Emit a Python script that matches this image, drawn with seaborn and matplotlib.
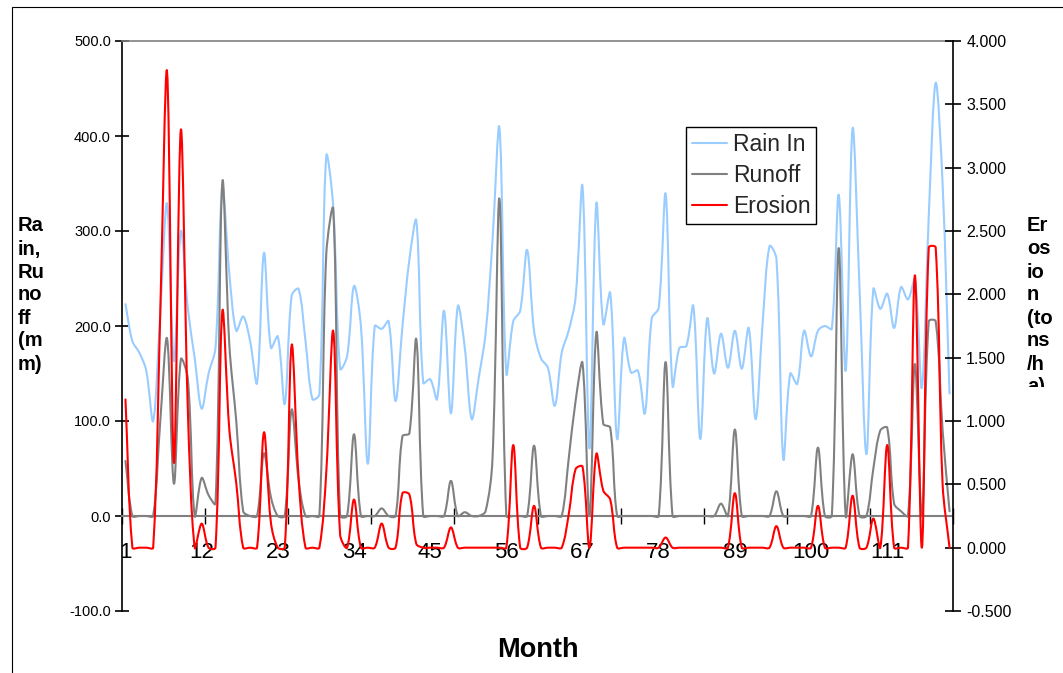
import numpy as np
import matplotlib
matplotlib.use("Agg")
import matplotlib.pyplot as plt
import seaborn as sns
from matplotlib.path import Path
from matplotlib.patches import PathPatch, Rectangle
from matplotlib.lines import Line2D
from matplotlib.ticker import FixedLocator, FormatStrFormatter
from matplotlib.transforms import Bbox, TransformedBbox

# ---------------- data ----------------
months = list(range(1, 121))

rain_in = [223, 184, 172, 153, 100, 210, 329, 163, 300, 219,
           166, 113, 150, 177, 345, 255, 195, 210, 184, 140,
           277, 177, 189, 118, 232, 239, 184, 123, 128, 379,
           326, 155, 168, 242, 200, 55, 200, 197, 205, 121,
           200, 270, 311, 140, 144, 123, 216, 108, 221, 177,
           102, 145, 192, 290, 409, 150, 205, 216, 280, 195,
           166, 156, 116, 172, 195, 230, 347, 71, 329, 202,
           235, 81, 187, 151, 153, 108, 208, 219, 339, 137,
           177, 179, 221, 81, 208, 150, 192, 156, 195, 155,
           198, 102, 202, 284, 271, 60, 150, 139, 195, 168,
           195, 200, 197, 338, 153, 408, 240, 65, 239, 218,
           234, 198, 241, 228, 249, 135, 316, 456, 349, 129]

runoff = [58, 0, 0, 0, 0, 97, 187, 34, 165, 145,
          0, 40, 22, 13, 352, 180, 100, 5, 0, 0,
          66, 20, 0, 0, 112, 38, 0, 0, 0, 276,
          323, 0, 0, 86, 0, 0, 0, 8, 0, 0,
          84, 87, 186, 0, 0, 0, 0, 37, 0, 4,
          0, 0, 5, 60, 334, 0, 0, 0, 0, 74,
          0, 0, 0, 0, 60, 121, 161, 0, 193, 97,
          93, 0, 0, 0, 0, 0, 0, 0, 162, 0,
          0, 0, 0, 0, 0, 0, 13, 0, 91, 0,
          0, 0, 0, 0, 26, 0, 0, 0, 0, 0,
          72, 0, 0, 282, 0, 65, 0, 0, 50, 90,
          93, 13, 5, 0, 160, 0, 205, 205, 90, 5]

erosion = [1.17, 0, 0, 0, 0, 1.80, 3.76, 0.67, 3.30, 1.10,
           0, 0.19, 0, 0, 1.87, 0.93, 0.51, 0, 0, 0,
           0.91, 0.20, 0, 0, 1.60, 0.55, 0, 0, 0, 0.60,
           1.71, 0.10, 0, 0.38, 0, 0, 0, 0.19, 0, 0,
           0.43, 0.42, 0.03, 0, 0, 0, 0, 0.16, 0, 0,
           0, 0, 0, 0, 0, 0, 0.81, 0, 0, 0.33,
           0, 0, 0, 0, 0.26, 0.62, 0.64, 0, 0.74, 0.45,
           0.38, 0, 0, 0, 0, 0, 0, 0, 0.08, 0,
           0, 0, 0, 0, 0, 0, 0, 0, 0.43, 0,
           0, 0, 0, 0, 0.17, 0, 0, 0, 0, 0,
           0.33, 0, 0, 0, 0, 0.41, 0, 0, 0.23, 0,
           0.81, 0, 0, 0, 2.15, 0, 2.37, 2.37, 0.50, 0]

series_names = ["Rain In", "Runoff", "Erosion"]
x_tick_labels = [1, 12, 23, 34, 45, 56, 67, 78, 89, 100, 111]
left_ticks = [-100, 0, 100, 200, 300, 400, 500]
right_ticks = [-0.5, 0.0, 0.5, 1.0, 1.5, 2.0, 2.5, 3.0, 3.5, 4.0]

COL_RAIN = "#99CCFF"
COL_RUN = "#808080"
COL_ERO = "#FF0000"

W, H = 1063, 673
PX_X = 831 / 120.0          # pixels per month
PX_L = 570 / 600.0          # pixels per unit, left axis
PX_R = 570 / 4.5            # pixels per unit, right axis


def smooth_path(x, y, sx, sy):
    """Excel-style smoothed Bezier path through the data points.
    Control-point lengths are weighted by neighbouring segment lengths
    (measured on screen), which keeps flat stretches flat."""
    x = np.asarray(x, float)
    y = np.asarray(y, float)
    n = len(x)
    f = 1.0 / 6.0

    def d(a, b):
        return np.hypot((x[b] - x[a]) * sx, (y[b] - y[a]) * sy)

    verts = [(x[0], y[0])]
    codes = [Path.MOVETO]
    for i in range(n - 1):
        i0 = max(i - 1, 0)
        i3 = min(i + 2, n - 1)
        d01, d12, d23 = d(i0, i), d(i, i + 1), d(i + 1, i3)
        f1 = 2 * f * d12 / (d01 + d12) if (d01 + d12) > 0 else 0.0
        f2 = 2 * f * d12 / (d12 + d23) if (d12 + d23) > 0 else 0.0
        f1 = min(f1, 1 / 3.0)
        f2 = min(f2, 1 / 3.0)
        c1 = (x[i] + (x[i + 1] - x[i0]) * f1, y[i] + (y[i + 1] - y[i0]) * f1)
        c2 = (x[i + 1] - (x[i3] - x[i]) * f2, y[i + 1] - (y[i3] - y[i]) * f2)
        verts += [c1, c2, (x[i + 1], y[i + 1])]
        codes += [Path.CURVE4] * 3
    return Path(verts, codes)


sns.set_theme(style="white")
plt.rcParams['font.family'] = ['Liberation Sans', 'DejaVu Sans']

fig = plt.figure(figsize=(W / 100, H / 100), dpi=100)
fig.patch.set_facecolor("white")
ax = fig.add_axes([122 / W, 1 - 611 / H, 831 / W, 570 / H])
ax2 = ax.twinx()

ax.set_xlim(0.5, 120.5)
ax.set_ylim(-100, 500)
ax2.set_ylim(-0.5, 4.0)

LW = 1.5
ax.add_patch(PathPatch(smooth_path(months, rain_in, PX_X, PX_L), fill=False,
                       edgecolor=COL_RAIN, lw=LW, capstyle="round", joinstyle="round", zorder=3))
ax.add_patch(PathPatch(smooth_path(months, runoff, PX_X, PX_L), fill=False,
                       edgecolor=COL_RUN, lw=LW, capstyle="round", joinstyle="round", zorder=4))
ax2.add_patch(PathPatch(smooth_path(months, erosion, PX_X, PX_R), fill=False,
                        edgecolor=COL_ERO, lw=LW, capstyle="round", joinstyle="round", zorder=5))

# spines
for s in ["left", "right", "top", "bottom"]:
    ax2.spines[s].set_visible(False)
ax.spines["right"].set_visible(False)
ax.spines["left"].set_color("black")
ax.spines["left"].set_linewidth(1.2)
ax.spines["top"].set_color("#808080")
ax.spines["top"].set_linewidth(1.2)
ax.spines["bottom"].set_position(("data", 0))
ax.spines["bottom"].set_color("#808080")
ax.spines["bottom"].set_linewidth(1.5)
ax2.spines["right"].set_visible(True)
ax2.spines["right"].set_color("black")
ax2.spines["right"].set_linewidth(1.2)

# y ticks
ax.yaxis.set_major_locator(FixedLocator(left_ticks))
ax.yaxis.set_major_formatter(FormatStrFormatter("%.1f"))
ax.tick_params(axis="y", which="major", direction="inout", length=10, width=1.2,
               color="black", labelsize=10.5, pad=3, labelcolor="black", left=True)
ax2.yaxis.set_major_locator(FixedLocator(right_ticks))
ax2.yaxis.set_major_formatter(FormatStrFormatter("%.3f"))
ax2.tick_params(axis="y", which="major", direction="inout", length=11, width=1.2,
                color="black", labelsize=11.5, pad=4, labelcolor="black", right=True)

# x ticks
ax.xaxis.set_major_locator(FixedLocator(x_tick_labels))
ax.set_xticklabels([str(v) for v in x_tick_labels])
ax.xaxis.set_minor_locator(FixedLocator([0.5 + 12 * k for k in range(11)]))
ax.tick_params(axis="x", which="major", length=0, labelsize=16, pad=18.5, labelcolor="black")
ax.tick_params(axis="x", which="minor", direction="inout", length=12, width=1.0,
               color="black", bottom=True)
ax.grid(False)
ax2.grid(False)

# axis titles (wrapped, as in the original)
left_lines = ["Ra", "in,", "Ru", "no", "ff", "(m", "m)"]
for k, t in enumerate(left_lines):
    fig.text(18 / W, 1 - (226 + 23 * k) / H, t, fontsize=14.5, fontweight="bold",
             ha="left", va="center", color="black")

right_lines = ["Er", "os", "io", "n", "(to", "ns", "/h", "a)"]
clipbox = TransformedBbox(Bbox([[0, 1 - 387 / H], [1, 1]]), fig.transFigure)
for k, t in enumerate(right_lines):
    tx = fig.text(1027 / W, 1 - (226 + 23 * k) / H, t, fontsize=14.5, fontweight="bold",
                  ha="left", va="center", color="black")
    tx.set_clip_box(clipbox)
    tx.set_clip_on(True)

fig.text(538 / W, 1 - 650 / H, "Month", fontsize=19.5, fontweight="bold",
         ha="center", va="center", color="black")

# chart-area border (left and top edges visible in the original)
fig.add_artist(Rectangle((12 / W, -0.1), 1.2, 1 - 7 / H + 0.1, transform=fig.transFigure,
                         fill=False, edgecolor="black", lw=0.8))

handles = [Line2D([], [], color=COL_RAIN, lw=LW),
           Line2D([], [], color=COL_RUN, lw=LW),
           Line2D([], [], color=COL_ERO, lw=LW)]
leg = ax2.legend(handles, series_names, loc="upper left",
                 bbox_to_anchor=(686 / W, 1 - 127 / H), bbox_transform=fig.transFigure,
                 fontsize=16.5, frameon=True, fancybox=False, shadow=False,
                 framealpha=1, edgecolor="black", handlelength=1.55, handletextpad=0.25,
                 borderpad=0.25, labelspacing=0.35, borderaxespad=0)
leg.get_frame().set_linewidth(1.0)
leg.set_zorder(10)

fig.savefig("out.png", dpi=100, facecolor="white")
